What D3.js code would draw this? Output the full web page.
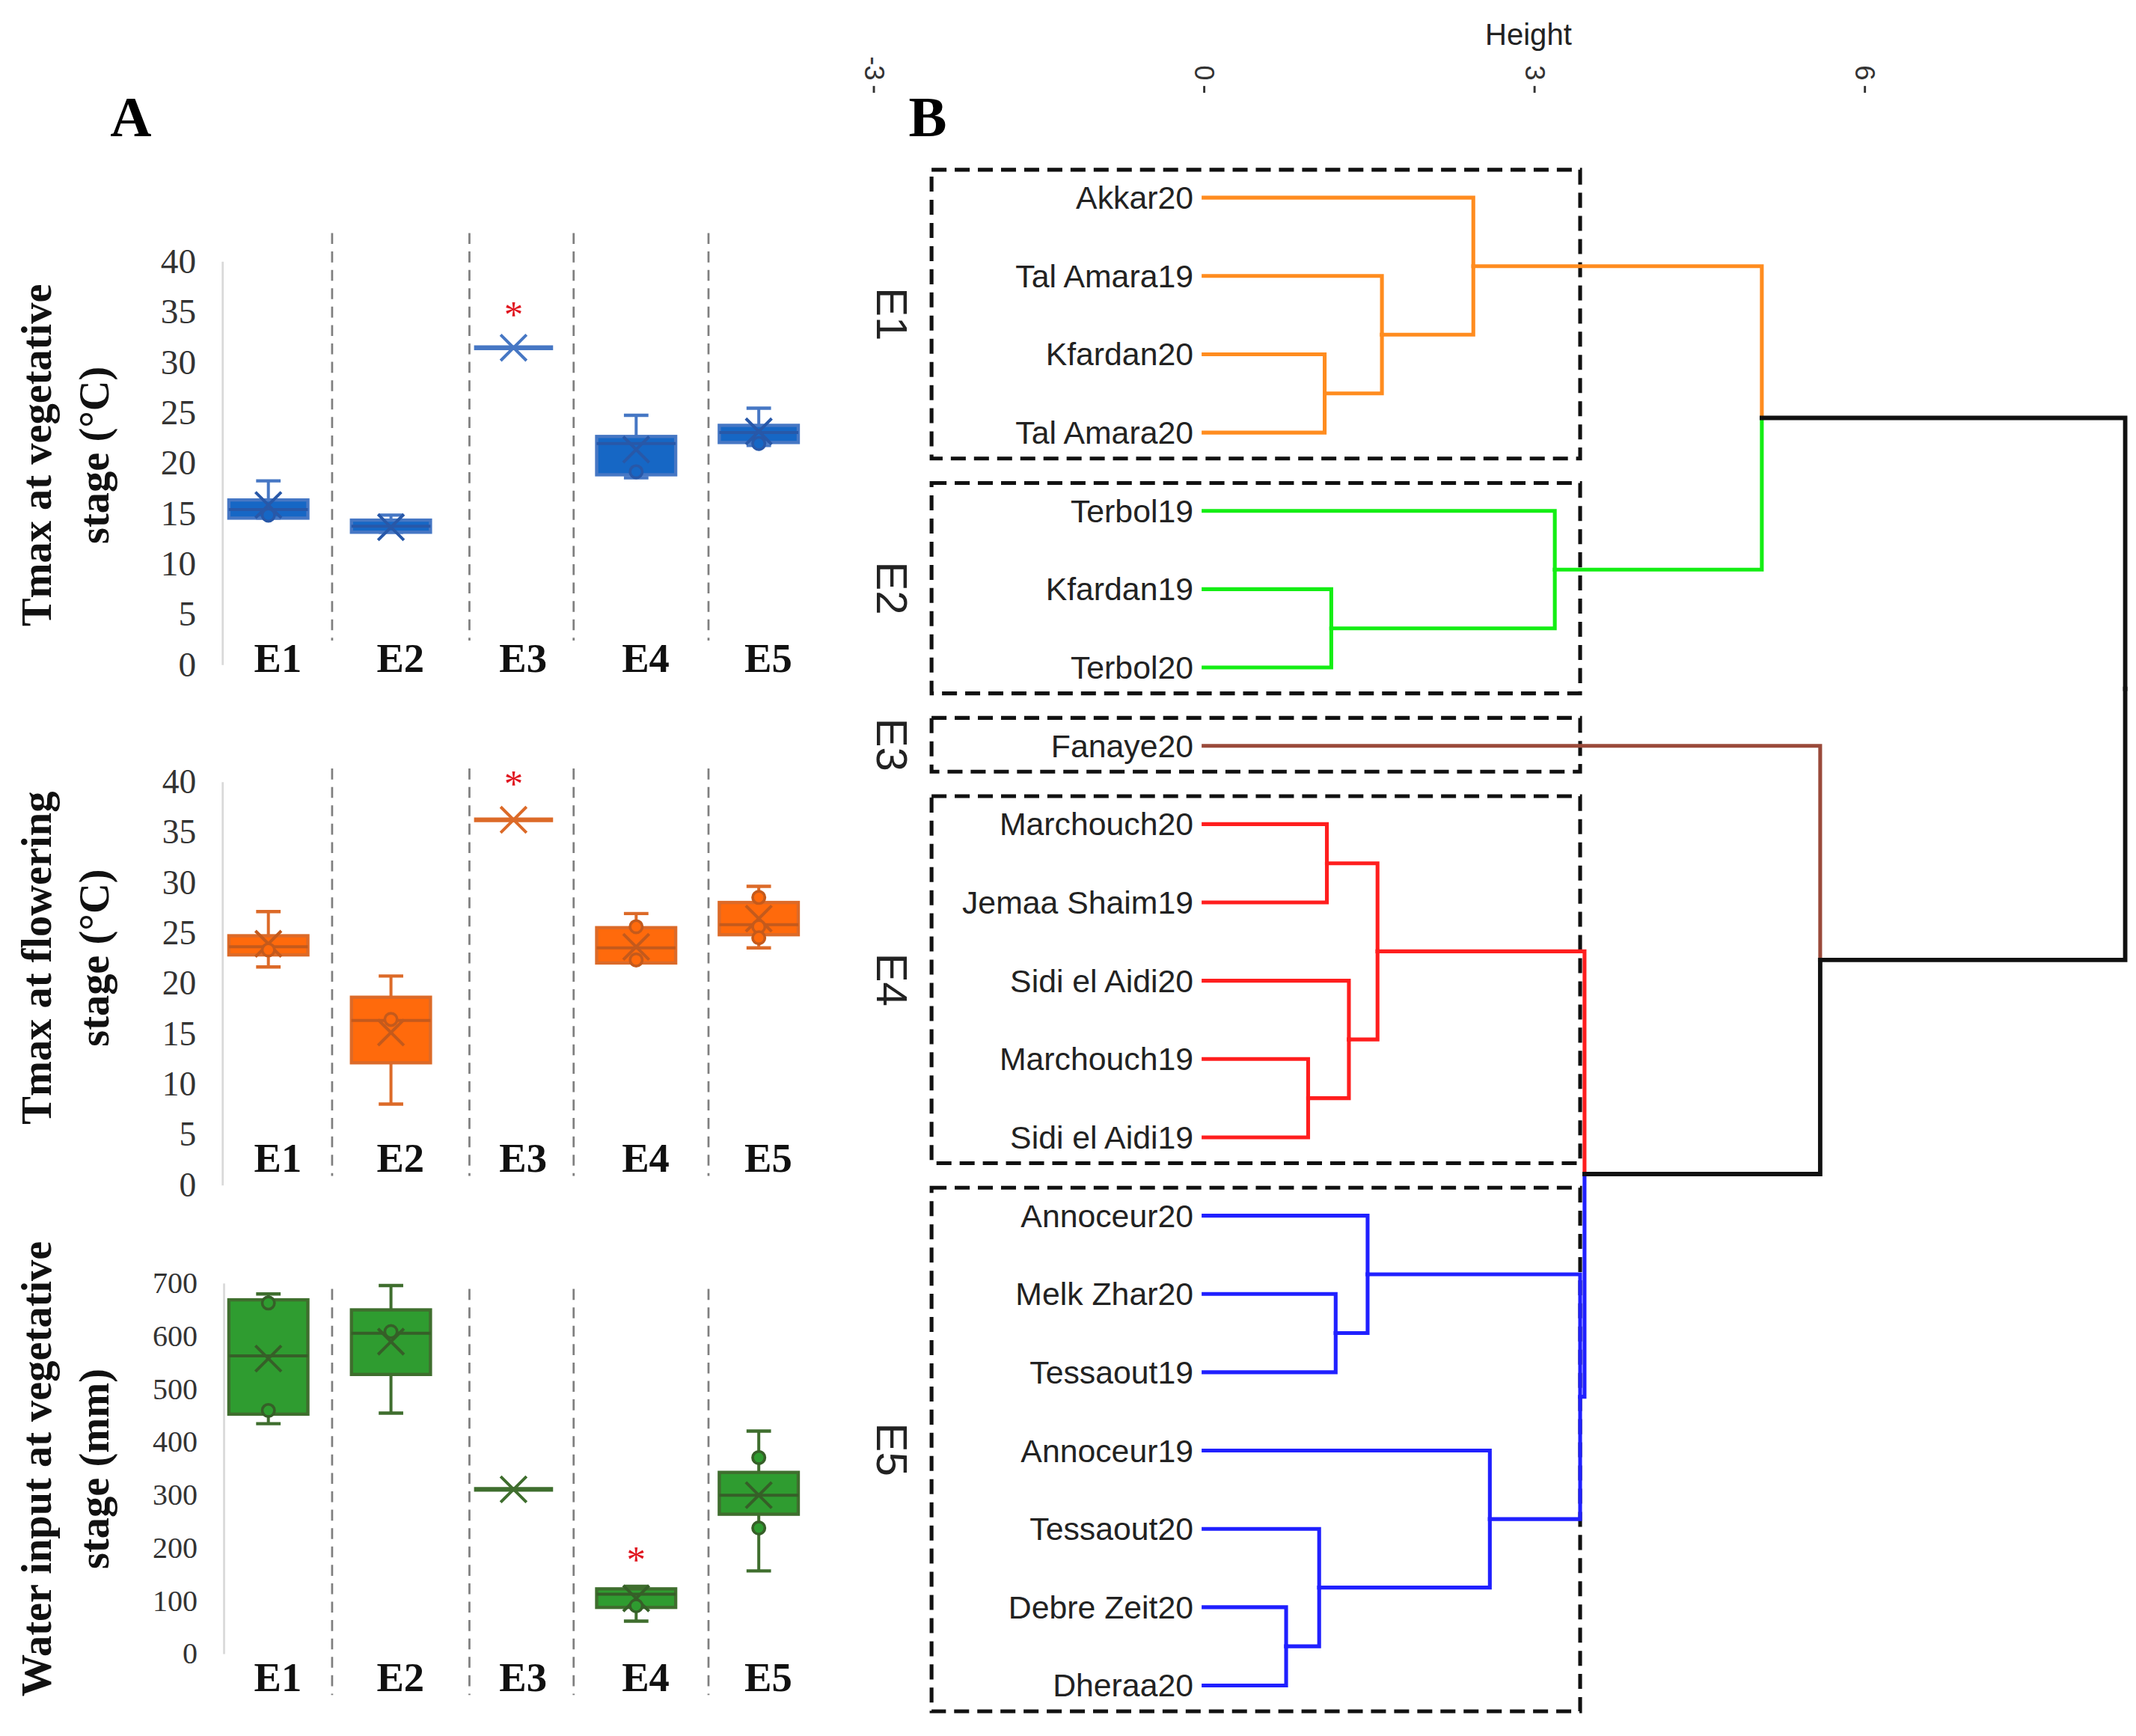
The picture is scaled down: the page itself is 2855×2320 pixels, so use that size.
<!DOCTYPE html>
<html>
<head>
<meta charset="utf-8">
<script src="https://cdn.jsdelivr.net/npm/d3@7"></script>
<style>
  body { margin: 0; background: #fff; }
</style>
</head>
<body>
<script>
// ---- panel A data: [whisker low, Q1, median, Q3, whisker high, mean]
var categories = ["E1", "E2", "E3", "E4", "E5"];

var vegTmaxStats = [
  [14.5, 14.5, 15.35, 16.3, 18.2, 15.8],
  [13.1, 13.1, 13.7, 14.3, 14.8, 13.6],
  [31.4, 31.4, 31.4, 31.4, 31.4, 31.4],
  [18.5, 18.8, 21.9, 22.6, 24.7, 21.3],
  [21.7, 22.0, 23.0, 23.7, 25.4, 23.1]
];
var vegTmaxPoints = [[14.8], [], [], [19.1], [21.9]];
var vegTmaxStars  = [null, null, 35.2, null, null];

var flowTmaxStats = [
  [21.6, 22.8, 23.6, 24.7, 27.1, 23.9],
  [8.0, 12.1, 16.3, 18.6, 20.7, 15.1],
  [36.2, 36.2, 36.2, 36.2, 36.2, 36.2],
  [22.0, 22.0, 23.5, 25.5, 26.9, 23.6],
  [23.5, 24.8, 25.8, 28.0, 29.6, 26.4]
];
var flowTmaxPoints = [[23.3], [16.4], [], [25.6, 22.3], [28.5, 25.6, 24.5]];
var flowTmaxStars  = [null, null, 40.3, null, null];

var waterStats = [
  [434, 452, 562, 668, 679, 557],
  [454, 527, 605, 649, 695, 589],
  [310, 310, 310, 310, 310, 310],
  [61, 87, 112, 122, 127, 104],
  [156, 263, 299, 342, 420, 299]
];
var waterPoints = [[662, 459], [608], [], [90], [370, 237]];
var waterStars  = [null, null, null, 187, null];

// ---- panel B data: leaves in plotted order, clusters, hclust-style merges [a, b, height]
var leaves = ["Akkar20", "Tal Amara19", "Kfardan20", "Tal Amara20",
              "Terbol19", "Kfardan19", "Terbol20",
              "Fanaye20",
              "Marchouch20", "Jemaa Shaim19", "Sidi el Aidi20", "Marchouch19", "Sidi el Aidi19",
              "Annoceur20", "Melk Zhar20", "Tessaout19", "Annoceur19", "Tessaout20", "Debre Zeit20", "Dheraa20"];
var clusterNames  = ["E1", "E2", "E3", "E4", "E5"];
var clusterSizes  = [4, 3, 1, 5, 7];
var clusterColors = ["#ff8c1f", "#14ee14", "#9a4a3a", "#ff1e1e", "#2020ff"];
var merges = [
  [-19, -20, 0.75], [-12, -13, 0.95], [-18, 1, 1.05], [-3, -4, 1.10], [-9, -10, 1.12],
  [-6, -7, 1.16], [-15, -16, 1.20], [-11, 2, 1.32], [-14, 7, 1.49], [5, 8, 1.58],
  [-2, 4, 1.62], [-1, 11, 2.45], [-17, 3, 2.60], [-5, 6, 3.19], [9, 13, 3.42],
  [10, 15, 3.46], [12, 14, 5.07], [-8, 16, 5.60], [17, 18, 8.37]
];
var heightTicks = [-3, 0, 3, 6];

var SERIF = '"Liberation Serif", "Times New Roman", serif';
var SANS  = '"Liberation Sans", Arial, sans-serif';

var svg = d3.select("body").append("svg")
    .attr("width", 2855).attr("height", 2320)
    .attr("viewBox", "0 0 1568 1274");

// ================= panel A =================
svg.append("text").attr("x", 96).attr("y", 86).attr("dominant-baseline", "central")
   .attr("text-anchor", "middle").attr("font-family", SERIF).attr("font-weight", "bold")
   .attr("font-size", 42).text("A");

var xPos = d3.scalePoint().domain(categories).range([197, 557]);
var xIdx = d3.scaleLinear().domain([0, 4]).range([197, 557]);
var separatorIdx = [0.52, 1.64, 2.49, 3.59];
var boxW = 58;

var panels = [
  { stats: vegTmaxStats, points: vegTmaxPoints, stars: vegTmaxStars,
    max: 40, step: 5, range: [487.5, 191.5], tickFont: 26, axisX: 163,
    fill: "#1667c5", stroke: "#4677c4", mark: "#2858a8",
    title: ["Tmax at vegetative", "stage (°C)"], titleY: 334,
    sep: [171, 470], labelY: 483 },
  { stats: flowTmaxStats, points: flowTmaxPoints, stars: flowTmaxStars,
    max: 40, step: 5, range: [869.5, 573.5], tickFont: 25, axisX: 163,
    fill: "#ff6a0c", stroke: "#dc6a28", mark: "#c45a1c",
    title: ["Tmax at flowering", "stage (°C)"], titleY: 703,
    sep: [564, 863], labelY: 850 },
  { stats: waterStats, points: waterPoints, stars: waterStars,
    max: 700, step: 100, range: [1213.5, 941.5], tickFont: 22, axisX: 164,
    fill: "#2f9c30", stroke: "#3f6e2e", mark: "#365f28",
    title: ["Water input at vegetative", "stage (mm)"], titleY: 1078,
    sep: [946, 1244], labelY: 1231 }
];

panels.forEach(function (p) {
  var g = svg.append("g");
  var y = d3.scaleLinear().domain([0, p.max]).range(p.range);

  // axis
  var ax = g.append("g").attr("transform", "translate(" + p.axisX + ",0)")
      .call(d3.axisLeft(y).tickValues(d3.range(0, p.max + p.step, p.step))
              .tickSize(0).tickSizeOuter(0).tickPadding(19));
  ax.select(".domain").attr("stroke", "#d9d9d9").attr("stroke-width", 1.5);
  ax.selectAll("text").attr("font-family", SERIF).attr("font-size", p.tickFont)
    .attr("fill", "#333");

  // dashed separators
  g.selectAll("line.sep").data(separatorIdx).enter().append("line")
    .attr("x1", function (d) { return xIdx(d); }).attr("x2", function (d) { return xIdx(d); })
    .attr("y1", p.sep[0]).attr("y2", p.sep[1])
    .attr("stroke", "#7f7f7f").attr("stroke-width", 1.5).attr("stroke-dasharray", "8,5.5");

  // y title
  p.title.forEach(function (t, k) {
    var tx = k === 0 ? 27 : 69;
    g.append("text").attr("x", tx).attr("y", p.titleY)
      .attr("transform", "rotate(-90," + tx + "," + p.titleY + ")")
      .attr("text-anchor", "middle").attr("dominant-baseline", "central")
      .attr("font-family", SERIF).attr("font-weight", "bold").attr("font-size", 31)
      .attr("fill", "#111").text(t);
  });

  // boxes
  var boxes = g.selectAll("g.box").data(p.stats).enter().append("g").attr("class", "box");
  boxes.each(function (s, i) {
    var b = d3.select(this);
    var cx = xPos(categories[i]);
    var flat = s[3] - s[1] < 1e-9;
    // whiskers
    b.append("line").attr("x1", cx).attr("x2", cx).attr("y1", y(s[0])).attr("y2", y(s[1]))
      .attr("stroke", p.stroke).attr("stroke-width", 2.2);
    b.append("line").attr("x1", cx).attr("x2", cx).attr("y1", y(s[3])).attr("y2", y(s[4]))
      .attr("stroke", p.stroke).attr("stroke-width", 2.2);
    if (!flat) {
      [s[0], s[4]].forEach(function (v) {
        b.append("line").attr("x1", cx - 9).attr("x2", cx + 9).attr("y1", y(v)).attr("y2", y(v))
          .attr("stroke", p.stroke).attr("stroke-width", 2.4);
      });
      b.append("rect").attr("x", cx - boxW / 2).attr("width", boxW)
        .attr("y", y(s[3])).attr("height", y(s[1]) - y(s[3]))
        .attr("fill", p.fill).attr("stroke", p.stroke).attr("stroke-width", 2.4);
    }
    // median
    b.append("line").attr("x1", cx - boxW / 2).attr("x2", cx + boxW / 2)
      .attr("y1", y(s[2])).attr("y2", y(s[2]))
      .attr("stroke", flat ? p.stroke : p.mark).attr("stroke-width", flat ? 3.5 : 2.2);
    // mean marker
    var ym = y(s[5]), m = 9.5;
    b.append("path")
      .attr("d", "M" + (cx - m) + "," + (ym - m) + "L" + (cx + m) + "," + (ym + m) +
                 "M" + (cx - m) + "," + (ym + m) + "L" + (cx + m) + "," + (ym - m))
      .attr("stroke", flat ? p.stroke : p.mark).attr("stroke-width", 2.2).attr("fill", "none");
    // inner points
    b.selectAll("circle").data(p.points[i]).enter().append("circle")
      .attr("cx", cx).attr("cy", function (d) { return y(d); }).attr("r", 4.5)
      .attr("fill", p.fill).attr("stroke", p.mark).attr("stroke-width", 2);
    // significance star
    if (p.stars[i] !== null) {
      b.append("text").attr("x", cx).attr("y", y(p.stars[i]) + 13)
        .attr("text-anchor", "middle").attr("font-family", SERIF).attr("font-size", 28)
        .attr("fill", "#e0141e").text("*");
    }
  });

  // category labels
  g.selectAll("text.cat").data(categories).enter().append("text").attr("class", "cat")
    .attr("x", function (d) { return xPos(d) + 7; }).attr("y", p.labelY)
    .attr("text-anchor", "middle").attr("dominant-baseline", "central")
    .attr("font-family", SERIF).attr("font-weight", "bold").attr("font-size", 30)
    .attr("fill", "#111").text(function (d) { return d; });
});

// ================= panel B =================
svg.append("text").attr("x", 681).attr("y", 86).attr("dominant-baseline", "central")
   .attr("text-anchor", "middle").attr("font-family", SERIF).attr("font-weight", "bold")
   .attr("font-size", 42).text("B");

var hScale = d3.scaleLinear().domain([-3, 6]).range([641, 1368.5]);
var leafY  = d3.scalePoint().domain(leaves).range([145, 1237]);

// height axis along the top
svg.append("text").attr("x", 1122).attr("y", 25).attr("text-anchor", "middle")
   .attr("dominant-baseline", "central").attr("font-family", SANS).attr("font-size", 22)
   .attr("fill", "#222").text("Height");
var hAxis = svg.append("g").attr("transform", "translate(0,68)")
    .call(d3.axisTop(hScale).tickValues(heightTicks).tickSize(5).tickSizeOuter(0)
            .tickFormat(function (d) { return String(d); }));
hAxis.select(".domain").remove();
hAxis.selectAll(".tick line").attr("stroke", "#333").attr("stroke-width", 1.6);
hAxis.selectAll(".tick text")
    .attr("y", null).attr("dy", null)
    .attr("transform", "translate(0,-9) rotate(90)")
    .attr("text-anchor", "end").attr("dominant-baseline", "central")
    .attr("font-family", SANS).attr("font-size", 20).attr("fill", "#333");

// cluster membership of each leaf
var leafCluster = [];
clusterSizes.forEach(function (n, c) { for (var k = 0; k < n; k++) leafCluster.push(c); });

// cluster boxes
var start = 0;
clusterSizes.forEach(function (n, c) {
  var y0 = leafY(leaves[start]) - 20.5, y1 = leafY(leaves[start + n - 1]) + 19;
  var x0 = hScale(-2.47), x1 = hScale(3.42);
  svg.append("rect").attr("x", x0).attr("y", y0).attr("width", x1 - x0).attr("height", y1 - y0)
    .attr("fill", "none").attr("stroke", "#111").attr("stroke-width", 2.8)
    .attr("stroke-dasharray", "11,6");
  var ly = (y0 + y1) / 2;
  svg.append("text").attr("transform", "translate(655," + ly + ") rotate(90)")
    .attr("text-anchor", "middle").attr("dominant-baseline", "central")
    .attr("font-family", SANS).attr("font-size", 32).attr("fill", "#222")
    .text(clusterNames[c]);
  start += n;
});

// leaf labels
svg.selectAll("text.leaf").data(leaves).enter().append("text").attr("class", "leaf")
  .attr("x", 876).attr("y", function (d) { return leafY(d); })
  .attr("text-anchor", "end").attr("dominant-baseline", "central")
  .attr("font-family", SANS).attr("font-size", 23.5).attr("fill", "#222")
  .text(function (d) { return d; });

// build merge nodes
var nodes = [];
function resolve(ref) {
  if (ref < 0) {
    var li = -ref - 1;
    return { y: leafY(leaves[li]), h: 0, members: [li] };
  }
  return nodes[ref - 1];
}
var links = [];
merges.forEach(function (m) {
  var a = resolve(m[0]), b = resolve(m[1]);
  var node = { y: (a.y + b.y) / 2, h: m[2], members: a.members.concat(b.members) };
  [a, b].forEach(function (c) {
    var cl = leafCluster[c.members[0]];
    var same = c.members.every(function (li) { return leafCluster[li] === cl; });
    links.push({ child: c, parent: node, color: same ? clusterColors[cl] : "#111" });
  });
  nodes.push(node);
});

links.sort(function (p, q) { return (p.color === "#111") - (q.color === "#111"); });
svg.append("g").selectAll("path").data(links).enter().append("path")
  .attr("d", function (d) {
    return "M" + hScale(d.child.h) + "," + d.child.y +
           "H" + hScale(d.parent.h) + "V" + d.parent.y;
  })
  .attr("fill", "none")
  .attr("stroke", function (d) { return d.color; })
  .attr("stroke-width", function (d) { return d.color === "#111" ? 3.2 : 2.8; })
  .attr("stroke-linecap", "square");
</script>
</body>
</html>
